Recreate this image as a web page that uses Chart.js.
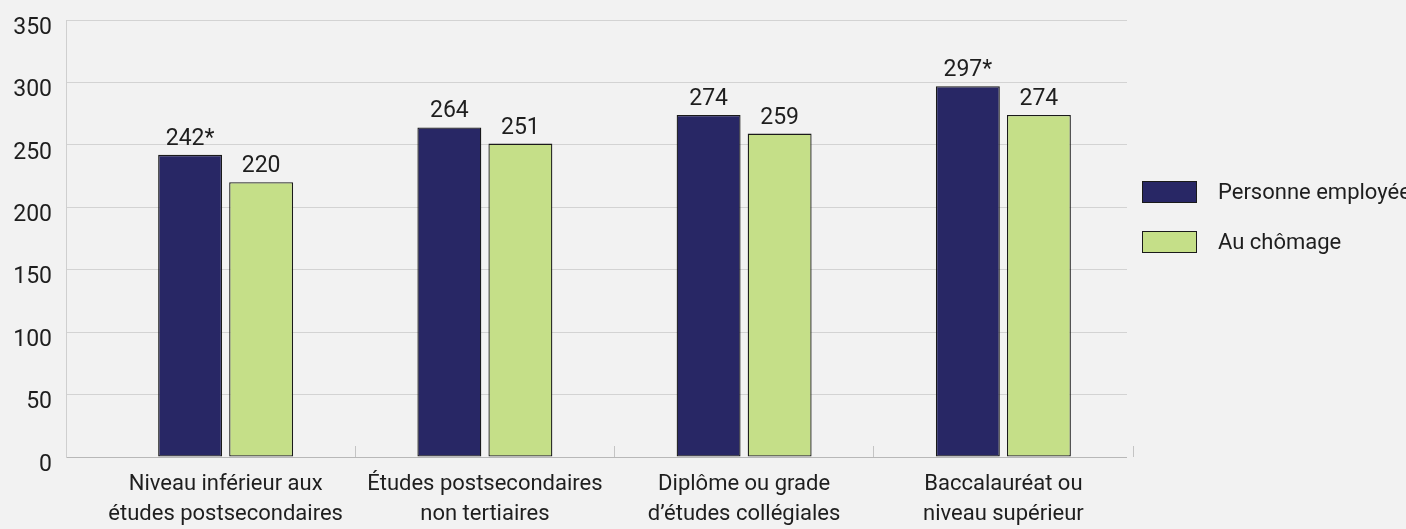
<!DOCTYPE html>
<html>
<head>
<meta charset="utf-8">
<script src="https://cdn.jsdelivr.net/npm/chart.js@4.4.0/dist/chart.umd.min.js"></script>
<style>
  html, body { margin: 0; padding: 0; background: #f2f2f2; }
</style>
</head>
<body>
<canvas id="myChart" width="1406" height="529"></canvas>
<script>
// ___________ data ___________ //
const categories = [
  ["Niveau inférieur aux", "études postsecondaires"],
  ["Études postsecondaires", "non tertiaires"],
  ["Diplôme ou grade", "d’études collégiales"],
  ["Baccalauréat ou", "niveau supérieur"],
];
const seriesNames = ["Personne employée", "Au chômage"];
const employed = [242, 264, 274, 297];
const unemployed = [220, 251, 259, 274];
const employedMarks = ["*", "", "", "*"];
const unemployedMarks = ["", "", "", ""];
const yTicks = [0, 50, 100, 150, 200, 250, 300, 350];

const FONT = '"Liberation Sans Narrow", "Arial Narrow", Roboto, sans-serif';
Chart.defaults.font.family = FONT;
Chart.defaults.color = "#1e1e1e";

// move the category band a bit right of the value axis, like the original
const shiftCategories = {
  id: "shiftCategories",
  afterLayout(chart) {
    const x = chart.scales.x;
    const area = chart.chartArea;
    x.left = area.left + 30;
    x.right = area.right + 6;
    x.configure();
    x._gridLineItems = null;
    x._labelItems = null;
  },
};

// numbers above the bars
const valueLabels = {
  id: "valueLabels",
  afterDatasetsDraw(chart) {
    const ctx = chart.ctx;
    const marks = [employedMarks, unemployedMarks];
    ctx.save();
    ctx.font = "23px " + FONT;
    ctx.fillStyle = "#1e1e1e";
    ctx.textAlign = "center";
    ctx.textBaseline = "alphabetic";
    chart.data.datasets.forEach((ds, di) => {
      chart.getDatasetMeta(di).data.forEach((bar, i) => {
        ctx.fillText(ds.data[i] + marks[di][i], bar.x, bar.y - 10);
      });
    });
    ctx.restore();
  },
};

// legend on the right
const sideLegend = {
  id: "sideLegend",
  afterDraw(chart) {
    const ctx = chart.ctx;
    const area = chart.chartArea;
    const x = area.right + 15;
    ctx.save();
    ctx.font = "22px " + FONT;
    ctx.textBaseline = "middle";
    ctx.textAlign = "left";
    chart.data.datasets.forEach((ds, i) => {
      const y = area.top + 161 + i * 50;
      ctx.fillStyle = ds.backgroundColor;
      ctx.fillRect(x, y, 55, 22);
      ctx.strokeStyle = "#1a1a1a";
      ctx.lineWidth = 1;
      ctx.strokeRect(x + 0.5, y + 0.5, 54, 21);
      ctx.fillStyle = "#1e1e1e";
      ctx.fillText(ds.label, x + 76, y + 12);
    });
    ctx.restore();
  },
};

const ctx = document.getElementById("myChart").getContext("2d");
const myChart = new Chart(ctx, {
  type: "bar",
  data: {
    labels: categories,
    datasets: [
      {
        label: seriesNames[0],
        data: employed,
        backgroundColor: "#282765",
        borderColor: "#1a1a1a",
        borderWidth: 1.3,
        borderSkipped: false,
        categoryPercentage: 0.548,
        barPercentage: 0.9,
      },
      {
        label: seriesNames[1],
        data: unemployed,
        backgroundColor: "#c5df88",
        borderColor: "#1a1a1a",
        borderWidth: 1.3,
        borderSkipped: false,
        categoryPercentage: 0.548,
        barPercentage: 0.9,
      },
    ],
  },
  options: {
    responsive: false,
    animation: false,
    layout: { padding: { top: 20, right: 279, left: 0, bottom: 0 } },
    plugins: {
      legend: { display: false },
      tooltip: { enabled: false },
    },
    scales: {
      x: {
        grid: {
          offset: true,
          drawOnChartArea: false,
          drawTicks: true,
          tickLength: -11,
          color: (c) => (c.index === 0 ? "rgba(0,0,0,0)" : "#c4c4c4"),
        },
        border: { display: false },
        ticks: {
          color: "#1e1e1e",
          font: { size: 22, lineHeight: 1.36 },
          padding: 24,
          maxRotation: 0,
          autoSkip: false,
        },
        afterFit: (s) => {
          s.height = 72;
        },
      },
      y: {
        min: yTicks[0],
        max: yTicks[yTicks.length - 1],
        afterBuildTicks: (s) => {
          s.ticks = yTicks.map((v) => ({ value: v }));
        },
        ticks: {
          color: "#1e1e1e",
          font: { size: 23 },
          padding: 14,
          labelOffset: 8,
        },
        grid: {
          drawTicks: false,
          color: (c) => (c.tick && c.tick.value === 0 ? "#b8b8b8" : "#d3d3d3"),
        },
        border: { display: true, color: "#cfcfcf" },
        afterFit: (s) => {
          s.width = 66;
          s.paddingTop = 0;
          s.paddingBottom = 0;
        },
      },
    },
  },
  plugins: [shiftCategories, valueLabels, sideLegend],
});
</script>
</body>
</html>
